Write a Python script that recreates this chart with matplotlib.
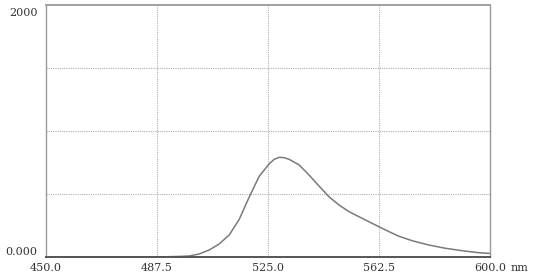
import matplotlib.pyplot as plt

# spectrum
wavelength_nm = [450, 488, 495, 498.6, 501.9, 505.3, 508.6, 512, 515.4, 518.8, 522.1,
                 525.5, 527.2, 528.9, 530.5, 532.2, 535.6, 538.9, 542.3, 545.6, 549,
                 552.4, 555.7, 559.1, 562.5, 565.9, 569.2, 573.7, 579.3, 584.9, 590.5,
                 596.1, 600]
intensity = [0, 0, 4, 8, 24, 56, 103, 175, 300, 479, 640,
             740, 775, 791, 788, 775, 730, 651, 563, 479, 413,
             360, 320, 280, 240, 201, 165, 129, 95, 69, 50,
             34, 28]

x_ticks = [450.0, 487.5, 525.0, 562.5, 600.0]
x_labels = ["450.0", "487.5", "525.0", "562.5", "600.0"]
y_grid = [500, 1000, 1500]

fig = plt.figure(figsize=(5.33, 2.76), dpi=100)
ax = fig.add_axes([0.0854, 0.069, 0.8340, 0.913])

ax.plot(wavelength_nm, intensity, color="#7a7a7a", linewidth=1.1)

ax.set_xlim(450, 600)
ax.set_ylim(0, 2000)

for x in x_ticks[1:-1]:
    ax.axvline(x, color="#b0b0b0", linestyle=(0, (1, 1)), linewidth=0.8, zorder=0)
for y in y_grid:
    ax.axhline(y, color="#b0b0b0", linestyle=(0, (1, 1)), linewidth=0.8, zorder=0)

for side in ["top", "right", "left"]:
    ax.spines[side].set_color("#9a9a9a")
    ax.spines[side].set_linewidth(1.0)
ax.spines["top"].set_linewidth(1.3)
ax.spines["bottom"].set_color("#555555")
ax.spines["bottom"].set_linewidth(1.4)

font = dict(family="DejaVu Serif", size=8, color="#333333")
ax.set_xticks(x_ticks)
ax.set_xticklabels(x_labels, fontdict=font)
ax.tick_params(axis="x", length=0, pad=4)
ax.set_yticks([])
ax.annotate("nm", xy=(1, 0), xycoords="axes fraction", xytext=(15, -4),
            textcoords="offset points", ha="left", va="top", **font)

ax.text(-0.018, 0.968, "2000", transform=ax.transAxes, ha="right", va="center", **font)
ax.text(-0.018, 0.02, "0.000", transform=ax.transAxes, ha="right", va="center", **font)

fig.savefig("out.png", dpi=100)
